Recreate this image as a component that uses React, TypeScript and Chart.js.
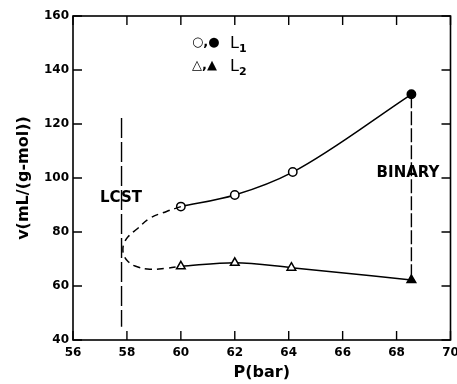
import React, { useEffect, useRef } from "react";
import { Chart, registerables } from "chart.js";

Chart.register(...registerables);

// L1 phase (circles): open measured points, filled binary point
const l1P = [60, 62, 64.15, 68.55];
const l1V = [89.4, 93.7, 102.2, 131];
const l1Filled = [false, false, false, true];

// L2 phase (triangles)
const l2P = [60, 62, 64.1, 68.55];
const l2V = [67.3, 68.6, 66.8, 62.2];
const l2Filled = [false, false, false, true];

// dashed extrapolation toward LCST
const loopP = [60, 59.47, 58.85, 58.36, 58.05, 57.9, 57.85, 57.9, 58.05, 58.3, 58.85, 59.47, 60];
const loopV = [89.4, 87.6, 85.1, 81.0, 78.3, 76.0, 73.5, 71.0, 69.0, 67.4, 66.2, 66.6, 67.3];

// LCST vertical dashed line
const lcstP = [57.8, 57.8];
const lcstV = [122.2, 44.9];

// Binary vertical dashed line
const binP = [68.55, 68.55];
const binV = [131, 62.2];

const xTicks = [56, 58, 60, 62, 64, 66, 68, 70];
const yTicks = [40, 60, 80, 100, 120, 140, 160];

const FONT = "'DejaVu Sans', sans-serif";

const zip = (xs: number[], ys: number[]) => xs.map((x, i) => ({ x, y: ys[i] }));

const framePlugin = {
  id: "frame",
  afterDraw(chart: any) {
    const { ctx, chartArea: a, scales } = chart;
    const xs = scales.x;
    const ys = scales.y;
    ctx.save();
    ctx.strokeStyle = "#000";
    ctx.lineWidth = 1.6;
    ctx.strokeRect(a.left, a.top, a.right - a.left, a.bottom - a.top);
    ctx.lineWidth = 1.4;
    const tl = 9;
    ctx.beginPath();
    xTicks.forEach((t) => {
      const px = xs.getPixelForValue(t);
      ctx.moveTo(px, a.bottom);
      ctx.lineTo(px, a.bottom - tl);
      ctx.moveTo(px, a.top);
      ctx.lineTo(px, a.top + tl);
    });
    yTicks.forEach((t) => {
      const py = ys.getPixelForValue(t);
      ctx.moveTo(a.left, py);
      ctx.lineTo(a.left + tl, py);
      ctx.moveTo(a.right, py);
      ctx.lineTo(a.right - tl, py);
    });
    ctx.stroke();

    ctx.fillStyle = "#000";
    // axis titles
    ctx.font = `bold 16px ${FONT}`;
    ctx.textAlign = "center";
    ctx.textBaseline = "middle";
    ctx.fillText("P(bar)", (a.left + a.right) / 2, 373);
    ctx.save();
    ctx.translate(24, (a.top + a.bottom) / 2);
    ctx.rotate(-Math.PI / 2);
    ctx.fillText("v(mL/(g-mol))", 0, 0);
    ctx.restore();

    // annotations
    ctx.font = `bold 15px ${FONT}`;
    ctx.fillText("LCST", 121, 198);
    ctx.fillText("BINARY", 408, 173);

    // legend
    ctx.textAlign = "left";
    ctx.font = `bold 13px ${FONT}`;
    ctx.fillText("○,●", 192, 43);
    ctx.fillText("△,▲", 192, 66);
    ctx.font = `16px ${FONT}`;
    ctx.fillText("L", 230, 44);
    ctx.fillText("L", 230, 67);
    ctx.font = `bold 11px ${FONT}`;
    ctx.fillText("1", 239, 49);
    ctx.fillText("2", 239, 72);
    ctx.restore();
  },
};

export default function App() {
  const ref = useRef<HTMLCanvasElement | null>(null);
  useEffect(() => {
    document.body.style.margin = "0";
    const canvas = ref.current!;
    const chart = new Chart(canvas, {
      type: "scatter",
      data: {
        datasets: [
          {
            data: zip(lcstP, lcstV),
            showLine: true,
            borderColor: "#000",
            borderWidth: 1.4,
            borderDash: [20, 4],
            pointRadius: 0,
          },
          {
            data: zip(binP, binV),
            showLine: true,
            borderColor: "#000",
            borderWidth: 1.4,
            borderDash: [14, 3],
            pointRadius: 0,
          },
          {
            data: zip(loopP, loopV),
            showLine: true,
            borderColor: "#000",
            borderWidth: 1.5,
            borderDash: [7, 5],
            tension: 0.4,
            pointRadius: 0,
          },
          {
            data: zip(l1P, l1V),
            showLine: true,
            borderColor: "#000",
            borderWidth: 1.5,
            cubicInterpolationMode: "monotone",
            pointStyle: "circle",
            pointRadius: 4.2,
            pointBorderWidth: 1.5,
            pointBorderColor: "#000",
            pointBackgroundColor: l1Filled.map((f) => (f ? "#000" : "#fff")),
          },
          {
            data: zip(l2P, l2V),
            showLine: true,
            borderColor: "#000",
            borderWidth: 1.5,
            cubicInterpolationMode: "monotone",
            pointStyle: "triangle",
            pointRadius: 5,
            pointBorderWidth: 1.5,
            pointBorderColor: "#000",
            pointBackgroundColor: l2Filled.map((f) => (f ? "#000" : "#fff")),
          },
        ],
      },
      options: {
        animation: false,
        responsive: true,
        maintainAspectRatio: false,
        layout: { padding: { top: 16, right: 6, left: 0, bottom: 0 } },
        plugins: { legend: { display: false }, tooltip: { enabled: false } },
        scales: {
          x: {
            type: "linear",
            min: 56,
            max: 70,
            afterFit: (s: any) => {
              s.height = 44;
              s.paddingLeft = 0;
              s.paddingRight = 0;
            },
            afterBuildTicks: (s: any) => {
              s.ticks = xTicks.map((v) => ({ value: v }));
            },
            grid: { display: false, drawTicks: false },
            border: { display: false },
            ticks: {
              padding: 6,
              color: "#000",
              font: { family: FONT, size: 12, weight: "bold" },
              maxRotation: 0,
            },
          },
          y: {
            type: "linear",
            min: 40,
            max: 160,
            afterFit: (s: any) => {
              s.width = 73;
              s.paddingTop = 0;
              s.paddingBottom = 0;
            },
            afterBuildTicks: (s: any) => {
              s.ticks = yTicks.map((v) => ({ value: v }));
            },
            grid: { display: false, drawTicks: false },
            border: { display: false },
            ticks: {
              padding: 4,
              color: "#000",
              font: { family: FONT, size: 12, weight: "bold" },
            },
          },
        },
      },
      plugins: [framePlugin],
    } as any);
    return () => chart.destroy();
  }, []);
  return (
    <div style={{ position: "absolute", left: 0, top: 0, width: 457, height: 384, background: "#fff" }}>
      <canvas ref={ref} />
    </div>
  );
}
